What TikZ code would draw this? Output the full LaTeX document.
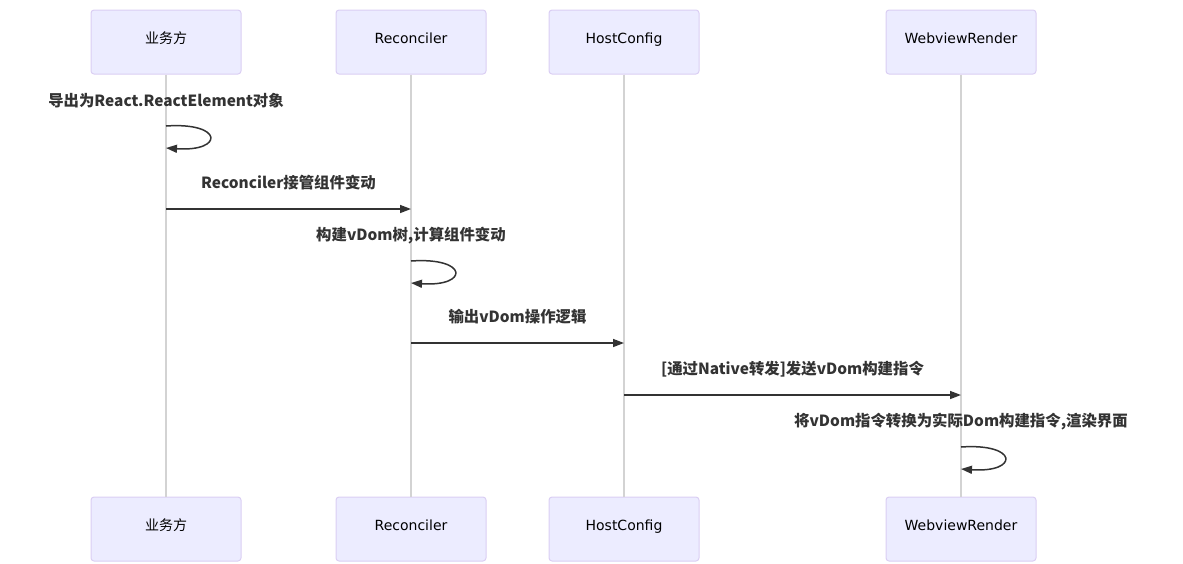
\documentclass[tikz,border=0pt]{standalone}
\usepackage{fontspec}
\setmainfont{DejaVu Sans}
\newfontfamily\cjk{Noto Sans CJK SC}
\usetikzlibrary{arrows.meta, calc}
\definecolor{actorfill}{HTML}{ECECFF}
\definecolor{actorline}{HTML}{DACEF3}
\definecolor{lifecol}{HTML}{D3D3D3}
\definecolor{msgcol}{HTML}{333333}
\begin{document}
\begin{tikzpicture}[x=1pt, y=-1pt, line join=round, >={Triangle[length=11pt,width=8pt]},
  actor/.style={draw=actorline, fill=actorfill, line width=1pt, rounded corners=3pt,
    minimum width=150pt, minimum height=64pt, inner sep=0pt},
  actortext/.style={font=\fontsize{14}{16}\selectfont, text=black, inner sep=0pt,
    text height=10pt, text depth=3pt, yshift=2pt},
  lifeline/.style={draw=lifecol, line width=1.5pt},
  msgline/.style={draw=msgcol, line width=1.5pt},
  msg/.style={font=\cjk\bfseries\fontsize{15.4}{18}\selectfont, text=msgcol}]
\useasboundingbox (0,0) rectangle (1183,563);
% Teilnehmer oben und unten, dazwischen die Lebenslinie
\foreach \n/\x/\t in {pa/166/{\cjk 业务方}, pb/411/Reconciler, pc/624/HostConfig, pd/961/WebviewRender} {
  \node[actor, label={[actortext]center:\t}] (\n-top) at (\x,42) {};
  \node[actor, label={[actortext]center:\t}] (\n-bot) at (\x,529) {};
  \draw[lifeline] (\n-top) -- (\n-bot);
}
% Punkte auf den Lebenslinien
\coordinate (m1a) at (pa-top.south |- 0,126);
\coordinate (m1b) at (pa-top.south |- 0,148);
\coordinate (m2a) at (pa-top.south |- 0,209);
\coordinate (m2b) at (pb-top.south |- 0,209);
\coordinate (m3a) at (pb-top.south |- 0,261);
\coordinate (m3b) at (pb-top.south |- 0,283);
\coordinate (m4a) at (pb-top.south |- 0,343);
\coordinate (m4b) at (pc-top.south |- 0,343);
\coordinate (m5a) at (pc-top.south |- 0,395);
\coordinate (m5b) at (pd-top.south |- 0,395);
\coordinate (m6a) at (pd-top.south |- 0,447);
\coordinate (m6b) at (pd-top.south |- 0,469);
% Selbstaufrufe
\foreach \a/\b in {m1a/m1b, m3a/m3b, m6a/m6b}
  \draw[msgline, ->] (\a) .. controls +(58,-4) and +(58,4) .. (\b);
\node[msg] (l1) at ($(m1a)+(0,-25)$) {导出为React.ReactElement对象};
\node[msg] (l3) at ($(m3a)+(0,-25)$) {构建vDom树,计算组件变动};
\node[msg] (l6) at ($(m6a)+(0,-25)$) {将vDom指令转换为实际Dom构建指令,渲染界面};
% Nachrichten zwischen den Teilnehmern
\draw[msgline, ->] (m2a) -- node[msg, yshift=26pt] (l2) {Reconciler接管组件变动} (m2b);
\draw[msgline, ->] (m4a) -- node[msg, yshift=26pt] (l4) {输出vDom操作逻辑} (m4b);
\draw[msgline, ->] (m5a) -- node[msg, yshift=26pt] (l5) {[通过Native转发]发送vDom构建指令} (m5b);
\end{tikzpicture}
\end{document}
